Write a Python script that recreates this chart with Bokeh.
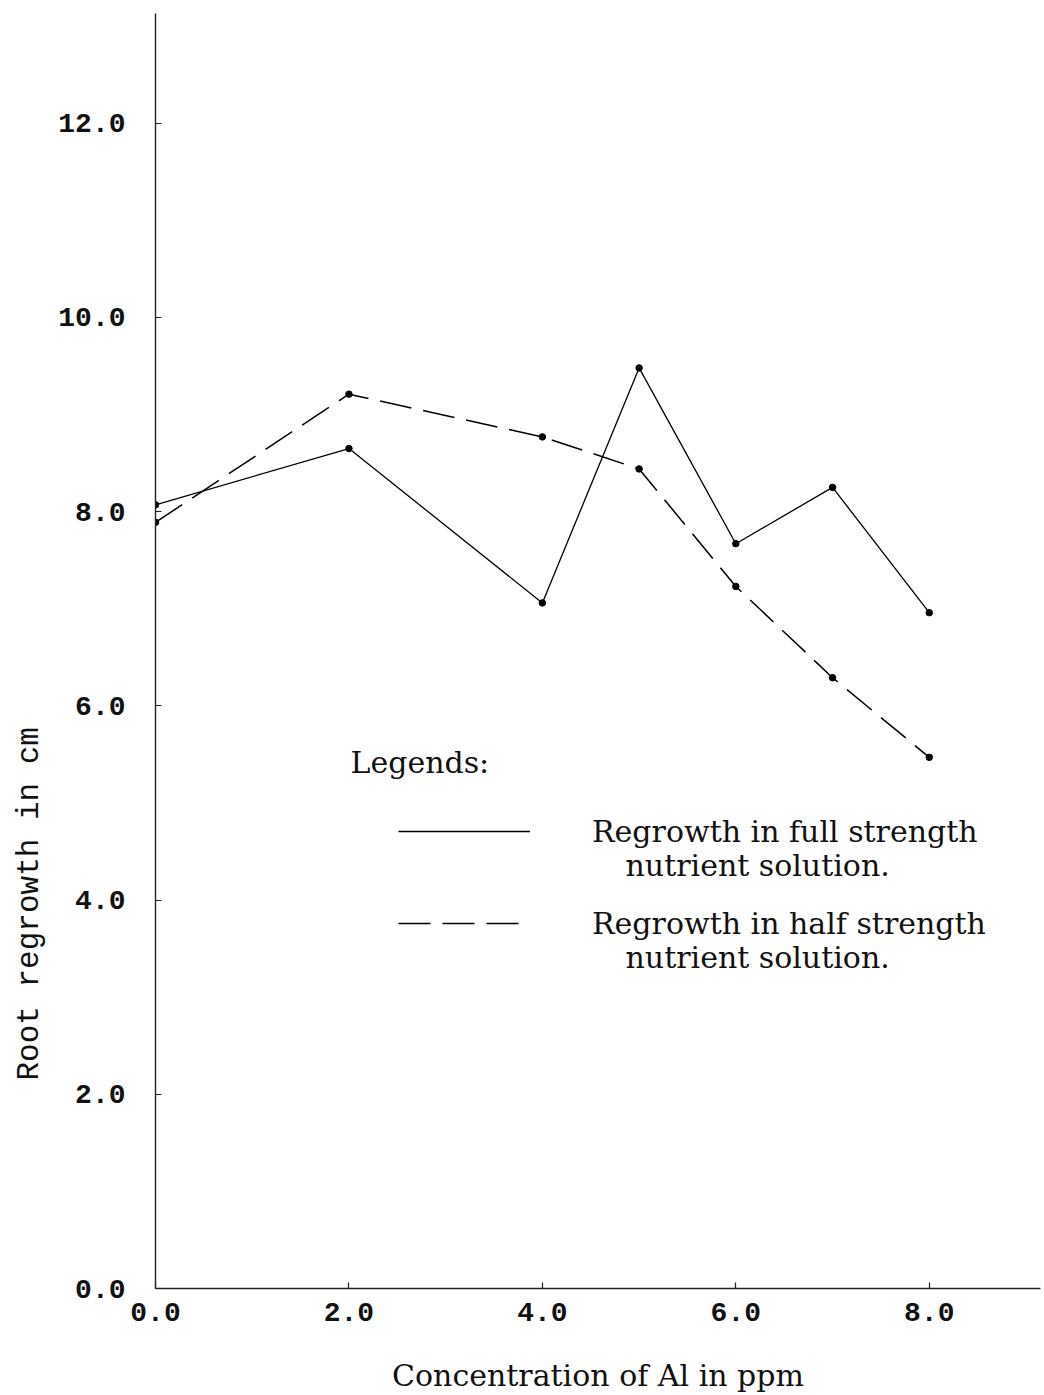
from bokeh.embed import file_html
from bokeh.models import FixedTicker, Label, Legend, LegendItem, Range1d, Title
from bokeh.plotting import figure
from bokeh.resources import INLINE

# Root regrowth (cm) against Al concentration (ppm)
concentration = [0, 2, 4, 5, 6, 7, 8]
full_strength = [8.07, 8.65, 7.06, 9.48, 7.67, 8.25, 6.96]
half_strength = [7.89, 9.21, 8.77, 8.44, 7.23, 6.29, 5.47]

x_ticks = [0, 2, 4, 6, 8]
x_tick_labels = ["0.0", "2.0", "4.0", "6.0", "8.0"]
y_ticks = [0, 2, 4, 6, 8, 10, 12]
y_tick_labels = ["0.0", "2.0", "4.0", "6.0", "8.0", "10.0", "12.0"]

series_names = [
    ("Regrowth in full strength", "nutrient solution."),
    ("Regrowth in half strength", "nutrient solution."),
]

# page geometry (pixels)
W, H = 1044, 1395
FRAME_LEFT, FRAME_RIGHT, FRAME_TOP, FRAME_BOTTOM = 155, 1040, 13, 1288
X_MAX, Y_MAX = 9.15, 13.13

INK = "#111111"
SERIF = "DejaVu Serif"
MONO = "Liberation Mono"


def at_px(px, py):
    """Convert a page pixel position to data coordinates."""
    x = (px - FRAME_LEFT) / (FRAME_RIGHT - FRAME_LEFT) * X_MAX
    y = (FRAME_BOTTOM - py) / (FRAME_BOTTOM - FRAME_TOP) * Y_MAX
    return x, y


p = figure(
    width=W, height=H,
    x_range=Range1d(0, X_MAX), y_range=Range1d(0, Y_MAX),
    output_backend="svg", toolbar_location=None,
    min_border_left=FRAME_LEFT, min_border_right=W - FRAME_RIGHT,
    min_border_top=FRAME_TOP, min_border_bottom=H - FRAME_BOTTOM,
    background_fill_color="white", border_fill_color="white",
)
p.outline_line_color = None
p.grid.visible = False

# axes
for ax in (p.xaxis[0], p.yaxis[0]):
    ax.axis_line_color = "#222222"
    ax.axis_line_width = 1.4
    ax.major_tick_line_color = "#222222"
    ax.major_tick_line_width = 1.2
    ax.major_tick_out = 0
    ax.major_tick_in = 6
    ax.minor_tick_line_color = None
    ax.major_label_text_font = MONO
    ax.major_label_text_font_style = "bold"
    ax.major_label_text_font_size = "28px"
    ax.major_label_text_color = INK

p.yaxis.ticker = FixedTicker(ticks=y_ticks)
p.yaxis.major_label_overrides = {t: s for t, s in zip(y_ticks, y_tick_labels)}
p.yaxis.major_label_standoff = 30

p.xaxis.ticker = FixedTicker(ticks=x_ticks)
p.xaxis.major_label_overrides = {t: s for t, s in zip(x_ticks, x_tick_labels)}
p.xaxis.major_label_standoff = 14
p.xaxis.axis_label = "Concentration of Al in ppm"
p.xaxis.axis_label_text_font = SERIF
p.xaxis.axis_label_text_font_style = "normal"
p.xaxis.axis_label_text_font_size = "30px"
p.xaxis.axis_label_text_color = INK
p.xaxis.axis_label_standoff = 34

# vertical axis title, set low along the axis
p.add_layout(Title(
    text="Root regrowth in cm", align="left", offset=208, standoff=18,
    text_font=MONO, text_font_size="31px", text_font_style="normal",
    text_color=INK,
), "left")

# data series
r_full = p.line(concentration, full_strength, line_color="black", line_width=1.3)
p.scatter(concentration, full_strength, size=6.5, color="black")
r_half = p.line(concentration, half_strength, line_color="black", line_width=1.5,
                line_dash="32 12")
p.scatter(concentration, half_strength, size=6.5, color="black")

# legend block
lx, ly = at_px(350, 762)
p.add_layout(Label(
    x=lx, y=ly, text="Legends:", text_font=SERIF, text_font_size="30px",
    text_color=INK, text_baseline="alphabetic",
))

legend = Legend(
    items=[
        LegendItem(label=series_names[0][0], renderers=[r_full]),
        LegendItem(label=series_names[1][0], renderers=[r_half]),
    ],
    location=(398 - FRAME_LEFT, FRAME_BOTTOM - 943),
    orientation="vertical",
    glyph_width=132, glyph_height=40, label_height=40,
    label_standoff=62, spacing=52, padding=0, margin=0,
    label_text_font=SERIF, label_text_font_size="30px", label_text_color=INK,
    border_line_color=None, background_fill_alpha=0,
)
p.add_layout(legend, "center")

for (_, second_line), base_y in zip(series_names, (865, 957)):
    sx, sy = at_px(625, base_y)
    p.add_layout(Label(
        x=sx, y=sy, text=second_line, text_font=SERIF, text_font_size="30px",
        text_color=INK, text_baseline="alphabetic",
    ))

with open("out.html", "w") as f:
    f.write(file_html(p, INLINE))
